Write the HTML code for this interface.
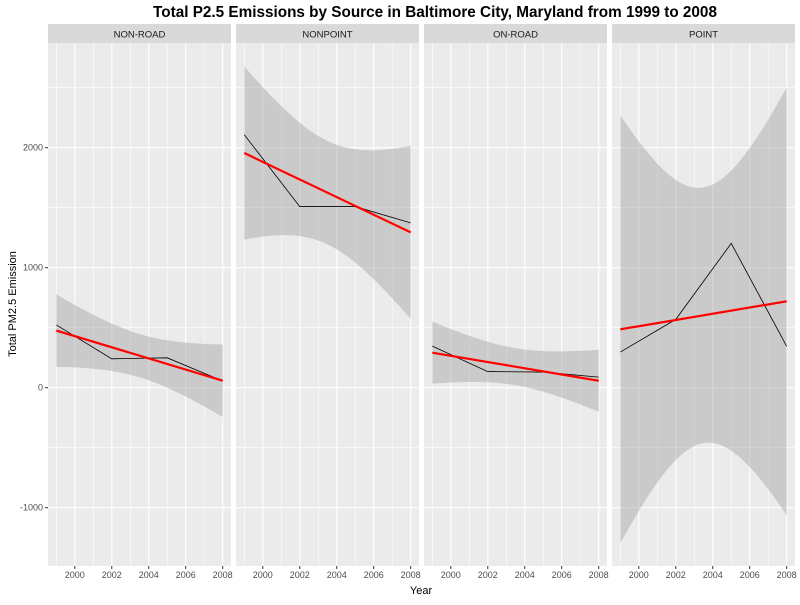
<!DOCTYPE html>
<html><head><meta charset="utf-8"><style>
body{margin:0;background:#fff;}
svg{font-family:"Liberation Sans",Arial,sans-serif;}
</style></head><body>
<svg id="chart" width="800" height="600"></svg>
<script>
const years = [1999, 2002, 2005, 2008];
const facets = ["NON-ROAD", "NONPOINT", "ON-ROAD", "POINT"];
const nonRoad = [522.94, 240.85, 248.93, 55.82];
const nonPoint = [2107.63, 1509.5, 1509.5, 1373.21];
const onRoad = [346.82, 134.31, 130.43, 88.28];
const pointSrc = [296.8, 569.26, 1202.49, 344.98];
const xTicks = [2000, 2002, 2004, 2006, 2008];
const yTicks = [-1000, 0, 1000, 2000];
const seriesList = [nonRoad, nonPoint, onRoad, pointSrc];

const NS = "http://www.w3.org/2000/svg";
const svg = document.getElementById("chart");
function mk(tag, attrs, parent) {
  const e = document.createElementNS(NS, tag);
  for (const k in attrs) e.setAttribute(k, attrs[k]);
  (parent || svg).appendChild(e);
  return e;
}
const panelLefts = [48, 236, 424, 612];
const pw = 183, panelTop = 43, panelBottom = 566;
const x0 = 1998.55, x1 = 2008.45;
function xs(i, v) { return panelLefts[i] + (v - x0) / (x1 - x0) * pw; }
function ys(v) { return 387.7 - v * 0.12; }
const tq = 4.303;

const title = mk("text", {x: 435, y: 17, "text-anchor": "middle", "font-size": 15.3, "font-weight": "bold", fill: "#000"});
title.textContent = "Total P2.5 Emissions by Source in Baltimore City, Maryland from 1999 to 2008";



facets.forEach((f, i) => {
  const L = panelLefts[i];
  const g = mk("g", {});
  
  
  const strip = mk("rect", {x: L, y: 24, width: pw, height: 19, fill: "#d9d9d9"}, g);
  
  
  const st = mk("text", {x: L + pw / 2, y: 37.5, "text-anchor": "middle", "font-size": 9.5, fill: "#1a1a1a"}, g);
  st.textContent = f;
  
  
  mk("rect", {x: L, y: panelTop, width: pw, height: panelBottom - panelTop, fill: "#ebebeb"}, g);
  for (let yv = -1500; yv <= 2500; yv += 500) {
    const major = yv % 1000 === 0;
    mk("line", {x1: L, x2: L + pw, y1: ys(yv), y2: ys(yv), stroke: "#fff", "stroke-width": major ? 1.1 : 0.55}, g);
  }
  for (let xv = 1999; xv <= 2008; xv++) {
    const major = xv % 2 === 0;
    mk("line", {x1: xs(i, xv), x2: xs(i, xv), y1: panelTop, y2: panelBottom, stroke: "#fff", "stroke-width": major ? 1.1 : 0.55}, g);
  }
  const d = seriesList[i];
  const n = years.length;
  const xm = years.reduce((a, b) => a + b) / n;
  const ym = d.reduce((a, b) => a + b) / n;
  let sxx = 0, sxy = 0;
  years.forEach((x, k) => { sxx += (x - xm) ** 2; sxy += (x - xm) * (d[k] - ym); });
  const b = sxy / sxx, a = ym - b * xm;
  let sse = 0;
  years.forEach((x, k) => { sse += (d[k] - a - b * x) ** 2; });
  const s = Math.sqrt(sse / (n - 2));
  const upper = [], lower = [];
  for (let k = 0; k <= 80; k++) {
    const x = 1999 + 9 * k / 80;
    const fit = a + b * x;
    const se = s * Math.sqrt(1 / n + (x - xm) ** 2 / sxx);
    upper.push([xs(i, x), ys(fit + tq * se)]);
    lower.push([xs(i, x), ys(fit - tq * se)]);
  }
  const pts = upper.concat(lower.reverse()).map(p => p.join(",")).join(" ");
  const band = mk("polygon", {points: pts, fill: "#999", "fill-opacity": 0.4}, g);
  
  
  const line = mk("polyline", {points: years.map((x, k) => xs(i, x) + "," + ys(d[k])).join(" "), fill: "none", stroke: "#000", "stroke-width": 0.8}, g);
  
  
  const reg = mk("line", {x1: xs(i, 1999), y1: ys(a + b * 1999), x2: xs(i, 2008), y2: ys(a + b * 2008), stroke: "#ff0000", "stroke-width": 2.2}, g);
  
  
  xTicks.forEach(t => {
    mk("line", {x1: xs(i, t), x2: xs(i, t), y1: panelBottom, y2: panelBottom + 3, stroke: "#333"}, g);
    const tt = mk("text", {x: xs(i, t), y: panelBottom + 12, "text-anchor": "middle", "font-size": 9, fill: "#4d4d4d"}, g);
    tt.textContent = t;
    
    
  });
});
yTicks.forEach(t => {
  mk("line", {x1: 45, x2: 48, y1: ys(t), y2: ys(t), stroke: "#333"});
  const tt = mk("text", {x: 43, y: ys(t) + 3, "text-anchor": "end", "font-size": 9, fill: "#4d4d4d"});
  tt.textContent = t;
  
  
});
const xt = mk("text", {x: 421, y: 594, "text-anchor": "middle", "font-size": 11, fill: "#000"});
xt.textContent = "Year";


const yt = mk("text", {x: 16, y: 304, "text-anchor": "middle", "font-size": 11, fill: "#000", transform: "rotate(-90 16 304)"});
yt.textContent = "Total PM2.5 Emission";


</script>
</body></html>
